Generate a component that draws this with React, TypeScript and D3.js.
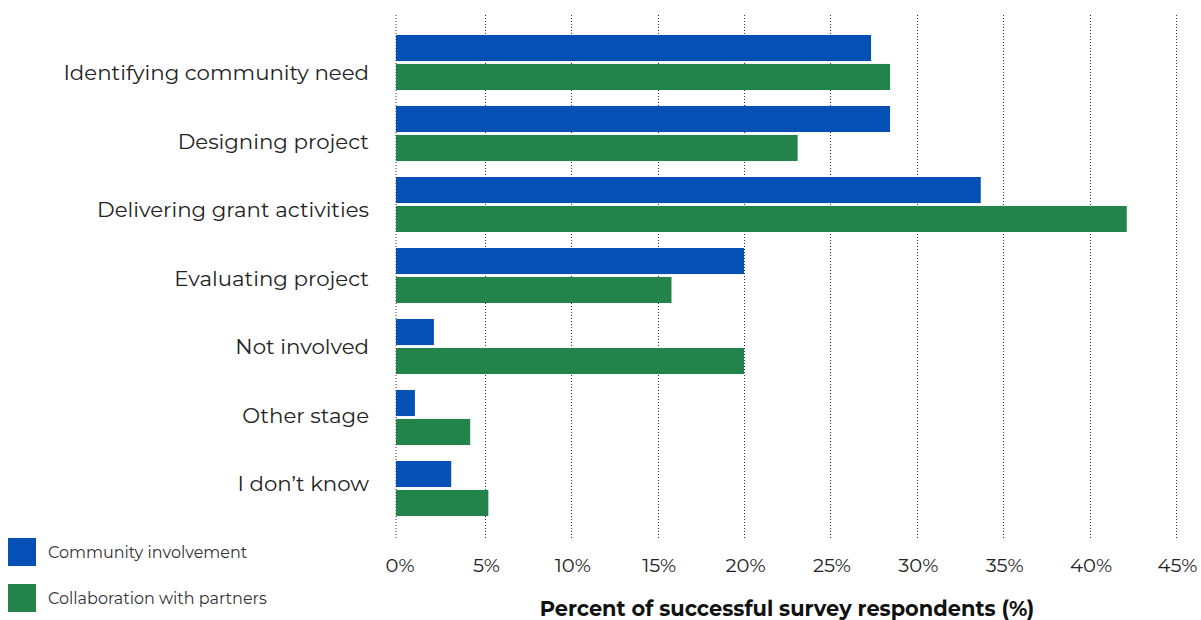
import React from "react";
import * as d3 from "d3";

const categories = [
  "Identifying community need",
  "Designing project",
  "Delivering grant activities",
  "Evaluating project",
  "Not involved",
  "Other stage",
  "I don\u2019t know",
];
const seriesNames = ["Community involvement", "Collaboration with partners"];
const communityInvolvement = [27.35, 28.45, 33.7, 20.0, 2.05, 0.95, 3.05];
const collaborationWithPartners = [28.45, 23.1, 42.15, 15.8, 20.0, 4.15, 5.2];
const tickValues = [0, 5, 10, 15, 20, 25, 30, 35, 40, 45];
const colors = ["#0450B4", "#22844A"];

const W = 1201;
const H = 620;
const FONT = "Montserrat, 'Open Sans', 'Noto Sans', sans-serif";

export default function App() {
  const x = d3.scaleLinear().domain([0, 45]).range([398.5, 1176]);
  const plotLeft = 396;
  const y = d3.scaleBand<string>().domain(categories).range([27, 524]).padding(0);
  const y1 = d3.scaleBand<string>().domain(seriesNames).range([8, 63]).paddingInner(0.1);
  const yLabel = d3.scalePoint<string>().domain(categories).range([73, 484]);
  const values = [communityInvolvement, collaborationWithPartners];

  return (
    <svg width={W} height={H} style={{ position: "absolute", left: 0, top: 0, background: "#fff" }}>
      {tickValues.map((t) => {
        const gx = t === 0 ? plotLeft : Math.round(x(t)) + 0.5;
        return (
          <line key={t} x1={gx} x2={gx} y1={15} y2={539} stroke="#333" strokeWidth={1} strokeDasharray="1,2" />
        );
      })}
      {categories.map((c, i) => (
        <g key={c} transform={`translate(0,${y(c)})`}>
          {seriesNames.map((s, j) => (
            <rect
              key={s}
              x={plotLeft}
              y={y1(s)}
              width={x(values[j][i]) - plotLeft}
              height={y1.bandwidth()}
              fill={colors[j]}
            />
          ))}
        </g>
      ))}
      {categories.map((c) => (
        <text key={c} x={369} y={yLabel(c)} dy="0.35em" textAnchor="end" fontFamily={FONT} fontSize={21.3} fill="#222">
          {c}
        </text>
      ))}
      {tickValues.map((t) => (
        <text key={t} x={x(t) + 1.5} y={565} dy="0.35em" textAnchor="middle" fontFamily={FONT} fontSize={19.5} fill="#222">
          {t}%
        </text>
      ))}
      <text x={787} y={609} dy="0.35em" textAnchor="middle" fontFamily={FONT} fontSize={20.9} fontWeight="bold" fill="#111">
        Percent of successful survey respondents (%)
      </text>
      {seriesNames.map((s, j) => (
        <g key={s} transform={`translate(8,${538 + j * 46})`}>
          <rect width={28} height={28} fill={colors[j]} />
          <text x={40} y={14} dy="0.35em" fontFamily={FONT} fontSize={16} fill="#333">
            {s}
          </text>
        </g>
      ))}
    </svg>
  );
}
